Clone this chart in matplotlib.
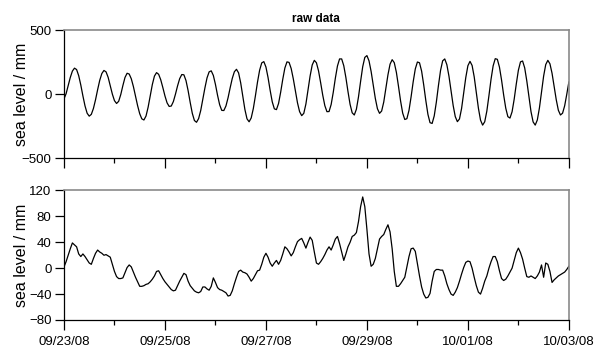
import numpy as np
import pandas as pd
import matplotlib
matplotlib.use("Agg")
import matplotlib.pyplot as plt
import matplotlib.dates as mdates

plt.rcParams['font.family'] = ['Liberation Sans', 'DejaVu Sans']

# hourly samples, 09/23/08 00:00 .. 10/03/08 00:00
times = pd.date_range("2008-09-23 00:00", "2008-10-03 00:00", freq="h")

# raw sea level [mm]
raw_mm = [
    -38, 2, 65, 129, 179, 202, 191, 143, 70, -15,
    -93, -150, -173, -159, -113, -45, 34, 107, 160, 184,
    173, 130, 66, -1, -52, -74, -57, -4, 66, 129,
    162, 156, 119, 58, -16, -91, -154, -194, -203, -172,
    -103, -14, 74, 140, 167, 154, 111, 50, -15, -69,
    -97, -94, -59, -1, 64, 120, 152, 150, 105, 27,
    -66, -151, -207, -221, -192, -129, -42, 48, 126, 173,
    181, 145, 75, -10, -84, -128, -129, -93, -29, 49,
    122, 174, 193, 165, 87, -17, -121, -194, -217, -187,
    -114, -14, 94, 186, 243, 253, 211, 129, 29, -61,
    -116, -122, -74, 14, 115, 203, 251, 247, 199, 119,
    23, -69, -138, -169, -151, -78, 29, 141, 227, 263,
    244, 181, 89, -9, -91, -138, -137, -82, 13, 124,
    219, 274, 274, 221, 129, 19, -81, -147, -164, -119,
    -22, 99, 213, 286, 300, 259, 176, 70, -35, -115,
    -151, -133, -63, 41, 150, 233, 268, 245, 170, 61,
    -54, -149, -199, -193, -128, -22, 96, 196, 250, 244,
    179, 71, -51, -159, -224, -230, -171, -64, 66, 184,
    259, 274, 229, 139, 24, -90, -177, -216, -195, -113,
    6, 129, 221, 255, 223, 134, 12, -111, -204, -243,
    -217, -134, -13, 115, 220, 276, 271, 210, 109, -8,
    -111, -177, -188, -139, -41, 78, 186, 251, 258, 204,
    102, -21, -138, -218, -243, -203, -109, 17, 140, 230,
    263, 236, 162, 60, -45, -127, -164, -150, -92, -2,
    94,
]

# residual sea level [mm]
resid_mm = [
    2, 10, 20, 30, 39, 36, 33, 22, 18, 22,
    18, 13, 8, 6, 15, 23, 28, 25, 23, 20,
    21, 19, 17, 6, -5, -13, -16, -16, -15, -7,
    1, 5, 2, -6, -14, -21, -28, -28, -27, -25,
    -24, -21, -17, -12, -5, -4, -10, -16, -21, -25,
    -29, -33, -35, -34, -27, -20, -14, -8, -10, -20,
    -27, -31, -35, -37, -38, -36, -29, -29, -32, -34,
    -28, -15, -22, -30, -33, -34, -36, -38, -43, -42,
    -35, -24, -14, -5, -3, -6, -7, -9, -14, -20,
    -16, -10, -4, -3, 6, 17, 23, 17, 8, 3,
    8, 12, 6, 12, 22, 33, 30, 25, 19, 24,
    33, 41, 44, 46, 39, 31, 40, 48, 43, 25,
    8, 6, 10, 15, 21, 28, 33, 28, 36, 45,
    49, 38, 25, 12, 22, 33, 40, 49, 51, 55,
    72, 95, 110, 95, 60, 22, 3, 6, 15, 30,
    45, 49, 52, 60, 67, 56, 30, -5, -28, -28,
    -24, -19, -14, 2, 18, 30, 31, 26, 7, -12,
    -29, -40, -46, -45, -39, -20, -5, -2, -2, -3,
    -3, -12, -24, -33, -40, -42, -37, -30, -20, -9,
    1, 9, 11, 10, 0, -14, -27, -37, -40, -31,
    -20, -12, 0, 10, 18, 18, 10, -4, -16, -19,
    -17, -12, -6, 0, 12, 24, 31, 24, 14, 0,
    -13, -14, -12, -14, -16, -12, -6, 5, -14, 8,
    6, -5, -22, -18, -15, -12, -10, -8, -6, -2,
    3,
]

raw_yticks = [-500, 0, 500]
resid_yticks = [-80, -40, 0, 40, 80, 120]

fig = plt.figure(figsize=(5.94, 3.53), dpi=100)
ax1 = fig.add_axes([0.1077, 0.5524, 0.850, 0.3626])
ax2 = fig.add_axes([0.1077, 0.0935, 0.850, 0.3669])

ax1.plot(times, raw_mm, color="black", lw=0.9)
ax2.plot(times, resid_mm, color="black", lw=0.9)

ax1.set_ylim(-500, 500)
ax1.set_yticks(raw_yticks)
ax2.set_ylim(-80, 120)
ax2.set_yticks(resid_yticks)

for ax in (ax1, ax2):
    ax.set_xlim(times[0], times[-1])
    ax.xaxis.set_major_locator(mdates.DayLocator(interval=2))
    ax.xaxis.set_minor_locator(mdates.DayLocator())
    ax.xaxis.set_major_formatter(mdates.DateFormatter("%m/%d/%y"))
    ax.tick_params(axis="both", which="major", direction="out", length=7,
                   width=0.9, labelsize=9.5, colors="black")
    ax.tick_params(axis="x", which="major", pad=4.5)
    ax.tick_params(axis="x", which="minor", direction="out", length=3.5, width=0.9)
    ax.tick_params(axis="y", which="major", length=6.5, pad=2.5)
    for side in ("top", "right"):
        ax.spines[side].set_color("#8a8a8a")
        ax.spines[side].set_linewidth(1.2)
    for side in ("left", "bottom"):
        ax.spines[side].set_color("black")
        ax.spines[side].set_linewidth(0.9)
    ax.set_ylabel("sea level / mm", fontsize=11.5)
    ax.yaxis.set_label_coords(-0.069, 0.5)

ax1.tick_params(axis="x", labelbottom=False)
ax1.set_title("raw data", fontsize=8.5, fontweight="bold", pad=6)

fig.savefig("out.png", dpi=100)
